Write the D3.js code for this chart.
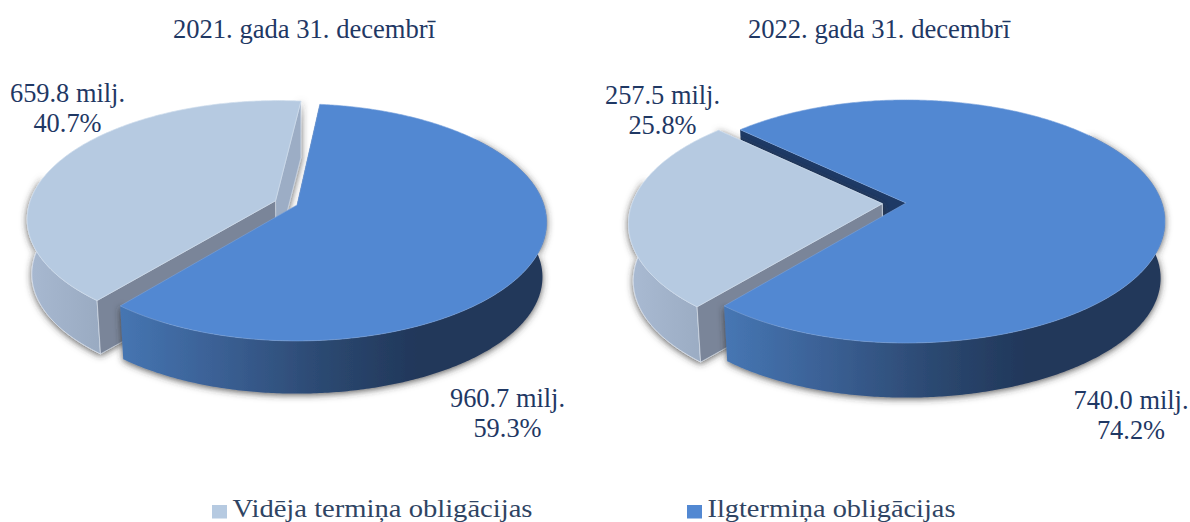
<!DOCTYPE html>
<html>
<head>
<meta charset="utf-8">
<script src="https://cdnjs.cloudflare.com/ajax/libs/d3/7.8.5/d3.min.js"></script>
<style>
  html, body { margin: 0; padding: 0; background: #fff; }
  svg { display: block; }
  text { font-family: "Liberation Serif", serif; fill: #1f3864; }
</style>
</head>
<body>
<script>
"use strict";

const categories = ["Vidēja termiņa obligācijas", "Ilgtermiņa obligācijas"];
const titles = ["2021. gada 31. decembrī", "2022. gada 31. decembrī"];
const amounts2021 = [659.8, 960.7];
const amounts2022 = [257.5, 740.0];
const percents2021 = ["40.7%", "59.3%"];
const percents2022 = ["25.8%", "74.2%"];

const width = 1190, height = 522;
const svg = d3.select("body").append("svg").attr("width", width).attr("height", height);
const defs = svg.append("defs");

// wall gradients
function gradient(id, x1, x2, stops) {
    const g = defs.append("linearGradient").attr("id", id)
        .attr("gradientUnits", "userSpaceOnUse")
        .attr("x1", x1).attr("x2", x2).attr("y1", 0).attr("y2", 0);
    stops.forEach(s => g.append("stop").attr("offset", s[0]).attr("stop-color", s[1]));
}

const shadow = defs.append("filter").attr("id", "shade")
    .attr("x", "-10%").attr("y", "-10%").attr("width", "120%").attr("height", "125%");
shadow.append("feDropShadow").attr("dx", 0).attr("dy", 1.5).attr("stdDeviation", 3.5)
    .attr("flood-color", "#333").attr("flood-opacity", 0.8);

const line = d3.line();

// one 3d pie, perspective goes through project()
function drawPie(id, values, percents, conf) {
    const start = conf.start * Math.PI / 180;
    const arcs = d3.pie().sort(null).startAngle(start).endAngle(start + 2 * Math.PI)(values);
    const pale = arcs[0], blue = arcs[1];
    const mid = (pale.startAngle + pale.endAngle) / 2;
    const ex = conf.explode * Math.sin(mid), ey = -conf.explode * Math.cos(mid);

    // disc coords -> screen. lower = 1 for the bottom face
    function project(x, y, lower) {
        const s = 1 / (1 - conf.persp * y);
        const sx = conf.cx + (x < 0 ? conf.rLeft : conf.rRight) * x * s;
        const sy = conf.cy + conf.k * y * s;
        if (!lower) return [sx, sy];
        return [conf.cx + (sx - conf.cx) * conf.shrink, conf.cy + (sy - conf.cy) * conf.shrink + conf.depth];
    }
    function rim(a0, a1, dx, dy, lower) {
        const n = Math.max(2, Math.ceil(Math.abs(a1 - a0) / 0.01));
        return d3.range(n + 1).map(i => {
            const a = a0 + (a1 - a0) * i / n;
            return project(dx + Math.sin(a), dy - Math.cos(a), lower);
        });
    }
    function topFace(a0, a1, dx, dy) {
        return line([project(dx, dy, 0)].concat(rim(a0, a1, dx, dy, 0))) + "Z";
    }
    function outerWall(a0, a1, dx, dy) {
        return line(rim(a0, a1, dx, dy, 0).concat(rim(a1, a0, dx, dy, 1))) + "Z";
    }
    function radialWall(a, dx, dy) {
        const tip = [dx + Math.sin(a), dy - Math.cos(a)];
        return line([project(dx, dy, 0), project(tip[0], tip[1], 0), project(tip[0], tip[1], 1), project(dx, dy, 1)]) + "Z";
    }

    gradient(id + "blue", conf.cx - 180, conf.cx + 120,
        [[0, "#4676b3"], [0.35, "#3a5f93"], [0.7, "#2b4870"], [1, "#21375a"]]);
    gradient(id + "pale", conf.cx - 270, conf.cx - 190,
        [[0, "#a8b9d1"], [1, "#98a9c0"]]);

    const g = svg.append("g");

    // blue back radial wall sits behind the pale slice
    g.append("path").attr("d", radialWall(blue.startAngle, 0, 0)).attr("fill", "#1e3a66");

    // pale slice walls
    const walls = g.append("g").attr("filter", "url(#shade)");
    walls.append("path").attr("d", radialWall(pale.endAngle, ex, ey)).attr("fill", "#9cadc5")
        .attr("stroke", "#d5dfec").attr("stroke-width", 0.6);
    walls.append("path").attr("d", outerWall(pale.startAngle, Math.min(pale.endAngle, 1.5 * Math.PI + 0.2), ex, ey))
        .attr("fill", "url(#" + id + "pale)").attr("stroke", "#dde5f0").attr("stroke-width", 0.8);
    walls.append("path").attr("d", radialWall(pale.startAngle, ex, ey)).attr("fill", "#7a8599")
        .attr("stroke", "#dde5f0").attr("stroke-width", 0.6);
    g.append("path").attr("d", topFace(pale.startAngle, pale.endAngle, ex, ey))
        .attr("fill", "#b6cae1").attr("stroke", "#cfdcec").attr("stroke-width", 0.7);

    // blue wall from the front point round past the right side
    const wallStart = blue.endAngle > 2 * Math.PI ? blue.endAngle - 2 * Math.PI : blue.endAngle;
    const blueWalls = g.append("g").attr("filter", "url(#shade)");
    blueWalls.append("path").attr("d", outerWall(wallStart, 0.9, 0, 0))
        .attr("fill", "url(#" + id + "blue)");
    g.append("path").attr("d", topFace(blue.startAngle, blue.endAngle, 0, 0))
        .attr("fill", "#5288d2").attr("stroke", "#7ba3dc").attr("stroke-width", 0.6);

    // title and data labels
    svg.append("text").attr("x", conf.titleX).attr("y", 37.5).attr("text-anchor", "middle")
        .attr("font-size", 26.6).text(titles[conf.idx]);
    [[0, conf.paleLabel], [1, conf.blueLabel]].forEach(([i, p]) => {
        const t = svg.append("text").attr("text-anchor", "middle").attr("font-size", 26.4);
        t.append("tspan").attr("x", p[0]).attr("y", p[1]).text(d3.format(".1f")(values[i]) + " milj.");
        t.append("tspan").attr("x", p[0]).attr("y", p[1] + 30).text(percents[i]);
    });
}

drawPie("a", amounts2021, percents2021, {
    idx: 0, start: 219.5, cx: 297, cy: 205, rLeft: 246.5, rRight: 247, k: 116, persp: 0.1465,
    explode: 0.095, shrink: 0.983, depth: 55,
    titleX: 304, paleLabel: [67.5, 102], blueLabel: [507.5, 407]
});
drawPie("b", amounts2022, percents2022, {
    idx: 1, start: 220, cx: 906, cy: 203, rLeft: 250, rRight: 256, k: 118.7, persp: 0.152,
    explode: 0.095, shrink: 0.983, depth: 57,
    titleX: 879, paleLabel: [662.5, 104], blueLabel: [1131, 409]
});

// legend
const legendColors = ["#b6cae1", "#5288d2"];
const legendX = d3.scaleOrdinal().domain(categories).range([212, 687]);
const legendLen = d3.scaleOrdinal().domain(categories).range([300, 248]);
categories.forEach((c, i) => {
    const x = legendX(c);
    svg.append("rect").attr("x", x).attr("y", 505).attr("width", 15).attr("height", 13.5).attr("fill", legendColors[i]);
    svg.append("text").attr("x", x + 20.5).attr("y", 516.5).attr("font-size", 25)
        .attr("textLength", legendLen(c)).attr("lengthAdjust", "spacingAndGlyphs")
        .style("fill", "#2f4463").text(c);
});
</script>
</body>
</html>
